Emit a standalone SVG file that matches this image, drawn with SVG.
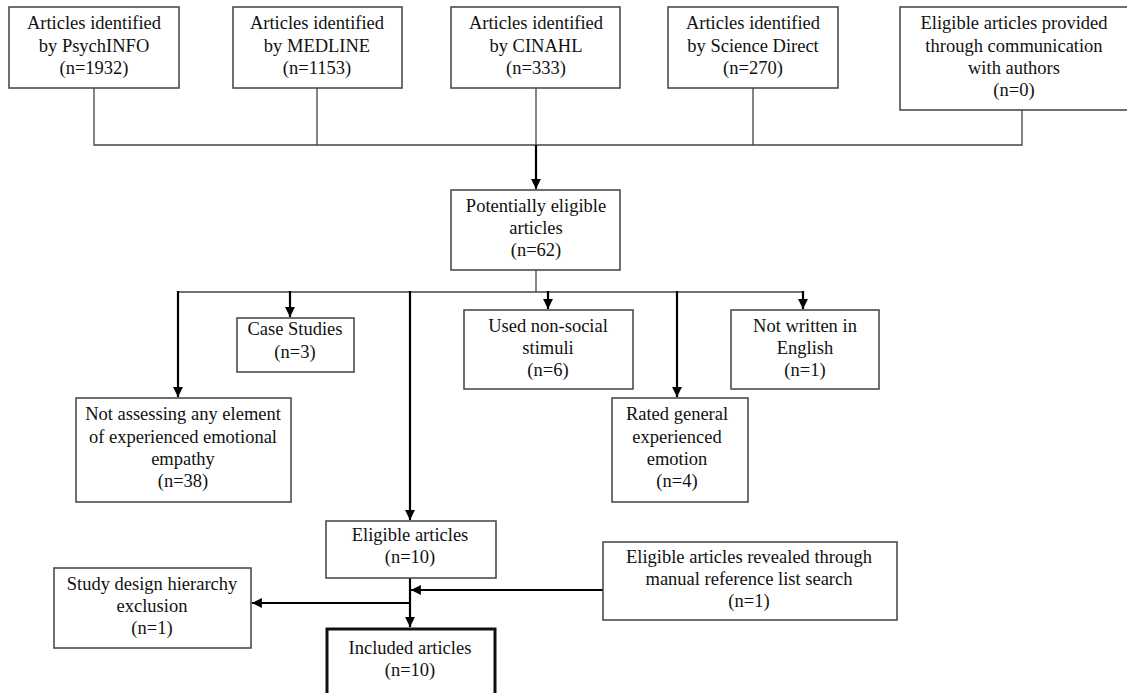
<svg xmlns="http://www.w3.org/2000/svg" width="1127" height="693" viewBox="0 0 1127 693">
<style>
.box{fill:#fff;stroke:#404040;stroke-width:1.5}
.thick{fill:#fff;stroke:#111;stroke-width:3}
.t{font-family:"Liberation Serif","Times New Roman",serif;font-size:18.5px;fill:#111;text-anchor:middle}
.thin{stroke:#444;stroke-width:1.3;fill:none}
.arr{stroke:#000;stroke-width:2.2;fill:none;marker-end:url(#ah)}
</style>
<defs>
<marker id="ah" viewBox="0 0 10 10" refX="10" refY="5" markerWidth="4.5" markerHeight="4.5" orient="auto" markerUnits="strokeWidth">
<path d="M0,0 L10,5 L0,10 z" fill="#000"/>
</marker>
</defs>
<rect width="1127" height="693" fill="#fff"/>
<g id="connectors">
<path class="thin" d="M94,88 V145 H1022 V110 M317,88 V145 M536,88 V145 M753,88 V145"/>
<path class="arr" d="M536,145 V189"/>
<path class="thin" d="M536,270 V292 M178,292 H803"/>
<path class="arr" d="M178,291 V397"/>
<path class="arr" d="M290,291 V317"/>
<path class="arr" d="M410,291 V520"/>
<path class="arr" d="M548,291 V309"/>
<path class="arr" d="M677,291 V397"/>
<path class="arr" d="M803,291 V309"/>
<path class="arr" d="M410,578 V627"/>
<path class="arr" d="M604,590 H411"/>
<path class="arr" d="M410,603 H252"/>
</g>
<g id="n1"><rect class="box" x="9" y="7" width="170" height="81"/>
<text class="t" x="94" y="29">Articles identified</text><text class="t" x="94" y="52">by PsychINFO</text><text class="t" x="94" y="74">(n=1932)</text></g>
<g id="n2"><rect class="box" x="233" y="7" width="169" height="81"/>
<text class="t" x="317" y="29">Articles identified</text><text class="t" x="317" y="52">by MEDLINE</text><text class="t" x="317" y="74">(n=1153)</text></g>
<g id="n3"><rect class="box" x="451" y="7" width="169" height="81"/>
<text class="t" x="536" y="29">Articles identified</text><text class="t" x="536" y="52">by CINAHL</text><text class="t" x="536" y="74">(n=333)</text></g>
<g id="n4"><rect class="box" x="668" y="7" width="170" height="81"/>
<text class="t" x="753" y="29">Articles identified</text><text class="t" x="753" y="52">by Science Direct</text><text class="t" x="753" y="74">(n=270)</text></g>
<g id="n5"><rect class="box" x="900" y="7" width="232" height="103"/>
<text class="t" x="1014" y="29">Eligible articles provided</text><text class="t" x="1014" y="52">through communication</text><text class="t" x="1014" y="74">with authors</text><text class="t" x="1014" y="96">(n=0)</text></g>
<g id="n6"><rect class="box" x="451" y="190" width="169" height="80"/>
<text class="t" x="536" y="212">Potentially eligible</text><text class="t" x="536" y="234">articles</text><text class="t" x="536" y="256">(n=62)</text></g>
<g id="n7"><rect class="box" x="76" y="398" width="215" height="104"/>
<text class="t" x="183" y="420">Not assessing any element</text><text class="t" x="183" y="443">of experienced emotional</text><text class="t" x="183" y="465">empathy</text><text class="t" x="183" y="487">(n=38)</text></g>
<g id="n8"><rect class="box" x="237" y="318" width="117" height="54"/>
<text class="t" x="295" y="335">Case Studies</text><text class="t" x="295" y="358">(n=3)</text></g>
<g id="n9"><rect class="box" x="464" y="310" width="169" height="79"/>
<text class="t" x="548" y="332">Used non-social</text><text class="t" x="548" y="354">stimuli</text><text class="t" x="548" y="376">(n=6)</text></g>
<g id="n10"><rect class="box" x="612" y="398" width="136" height="104"/>
<text class="t" x="677" y="420">Rated general</text><text class="t" x="677" y="443">experienced</text><text class="t" x="677" y="465">emotion</text><text class="t" x="677" y="487">(n=4)</text></g>
<g id="n11"><rect class="box" x="731" y="310" width="148" height="79"/>
<text class="t" x="805" y="332">Not written in</text><text class="t" x="805" y="354">English</text><text class="t" x="805" y="376">(n=1)</text></g>
<g id="n12"><rect class="box" x="326" y="521" width="170" height="57"/>
<text class="t" x="410" y="541">Eligible articles</text><text class="t" x="410" y="563">(n=10)</text></g>
<g id="n13"><rect class="box" x="603" y="542" width="294" height="78"/>
<text class="t" x="749" y="563">Eligible articles revealed through</text><text class="t" x="749" y="585">manual reference list search</text><text class="t" x="749" y="607">(n=1)</text></g>
<g id="n14"><rect class="box" x="54" y="568" width="197" height="80"/>
<text class="t" x="152" y="590">Study design hierarchy</text><text class="t" x="152" y="612">exclusion</text><text class="t" x="152" y="634">(n=1)</text></g>
<g id="n15"><rect class="thick" x="327" y="629" width="168" height="80"/>
<text class="t" x="410" y="654">Included articles</text><text class="t" x="410" y="676">(n=10)</text></g>
</svg>
